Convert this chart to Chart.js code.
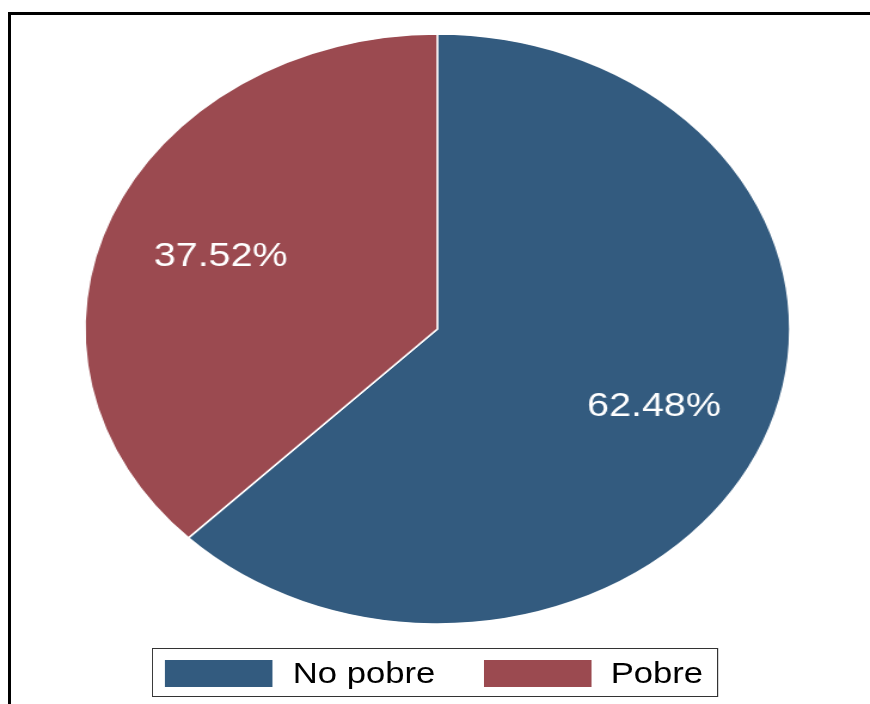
<!DOCTYPE html>
<html>
<head>
<meta charset="utf-8">
<script src="https://cdn.jsdelivr.net/npm/chart.js@4/dist/chart.umd.min.js"></script>
<style>
  html, body { margin: 0; padding: 0; background: #fff; }
  body { width: 870px; height: 704px; overflow: hidden; position: relative; }
  #frame {
    position: absolute; left: 8px; top: 12px; width: 900px; height: 720px;
    border-left: 3px solid #000; border-top: 3px solid #000; box-sizing: border-box;
  }
  /* the original graph is stretched horizontally, so the whole stage is too */
  #stage {
    position: absolute; left: 0; top: 0; width: 728px; height: 704px;
    transform: scaleX(1.195); transform-origin: 0 0;
  }
  #legend {
    position: absolute; left: 127px; top: 648px; width: 474px; height: 49px;
    border: 1.5px solid #333; box-sizing: border-box;
    font-family: "Liberation Sans", Arial, sans-serif; font-size: 29px; color: #000;
  }
  .sw { position: absolute; top: 10.5px; width: 90px; height: 27px; }
  .lb { position: absolute; top: 10.5px; height: 27px; line-height: 27px; white-space: nowrap; }
</style>
</head>
<body>
<div id="frame"></div>
<div id="stage">
  <canvas id="pieChart" width="728" height="704"></canvas>
  <div id="legend"></div>
</div>
<script>
// data
const categories = ['No pobre', 'Pobre'];
const shares = [62.48, 37.52];
const sliceColors = ['#335b7f', '#9b4a50'];

// percentage labels inside the slices
const sliceLabels = {
  id: 'sliceLabels',
  afterDatasetsDraw(chart) {
    const ctx = chart.ctx;
    const meta = chart.getDatasetMeta(0);
    const size = 33;
    ctx.save();
    ctx.fillStyle = '#fff';
    ctx.font = size + 'px "Liberation Sans", Arial, sans-serif';
    ctx.textAlign = 'center';
    ctx.textBaseline = 'alphabetic';
    meta.data.forEach((arc, i) => {
      const p = arc.getProps(['x', 'y', 'startAngle', 'endAngle', 'outerRadius'], true);
      const mid = (p.startAngle + p.endAngle) / 2;
      const r = p.outerRadius * 0.665;
      const x = p.x + Math.cos(mid) * r;
      const y = p.y + Math.sin(mid) * r + size * 0.358;
      ctx.fillText(shares[i].toFixed(2) + '%', x, y);
    });
    ctx.restore();
  }
};

const ctx = document.getElementById('pieChart').getContext('2d');
const pieChart = new Chart(ctx, {
  type: 'pie',
  data: {
    labels: categories,
    datasets: [{
      data: shares,
      backgroundColor: sliceColors,
      borderColor: '#fff',
      borderWidth: 1.5,
      radius: 295,
      hoverOffset: 0
    }]
  },
  options: {
    responsive: false,
    animation: false,
    layout: { padding: { left: 4, right: 0, top: 0, bottom: 46 } },
    plugins: {
      legend: { display: false },
      tooltip: { enabled: false }
    }
  },
  plugins: [sliceLabels]
});

// legend built from the same arrays
const legendEl = document.getElementById('legend');
const swatchLeft = [10, 277];
const textLeft = [117, 383];
categories.forEach((name, i) => {
  const sw = document.createElement('div');
  sw.className = 'sw';
  sw.style.left = swatchLeft[i] + 'px';
  sw.style.background = sliceColors[i];
  legendEl.appendChild(sw);
  const lb = document.createElement('div');
  lb.className = 'lb';
  lb.style.left = textLeft[i] + 'px';
  lb.textContent = name;
  legendEl.appendChild(lb);
});
</script>
</body>
</html>
